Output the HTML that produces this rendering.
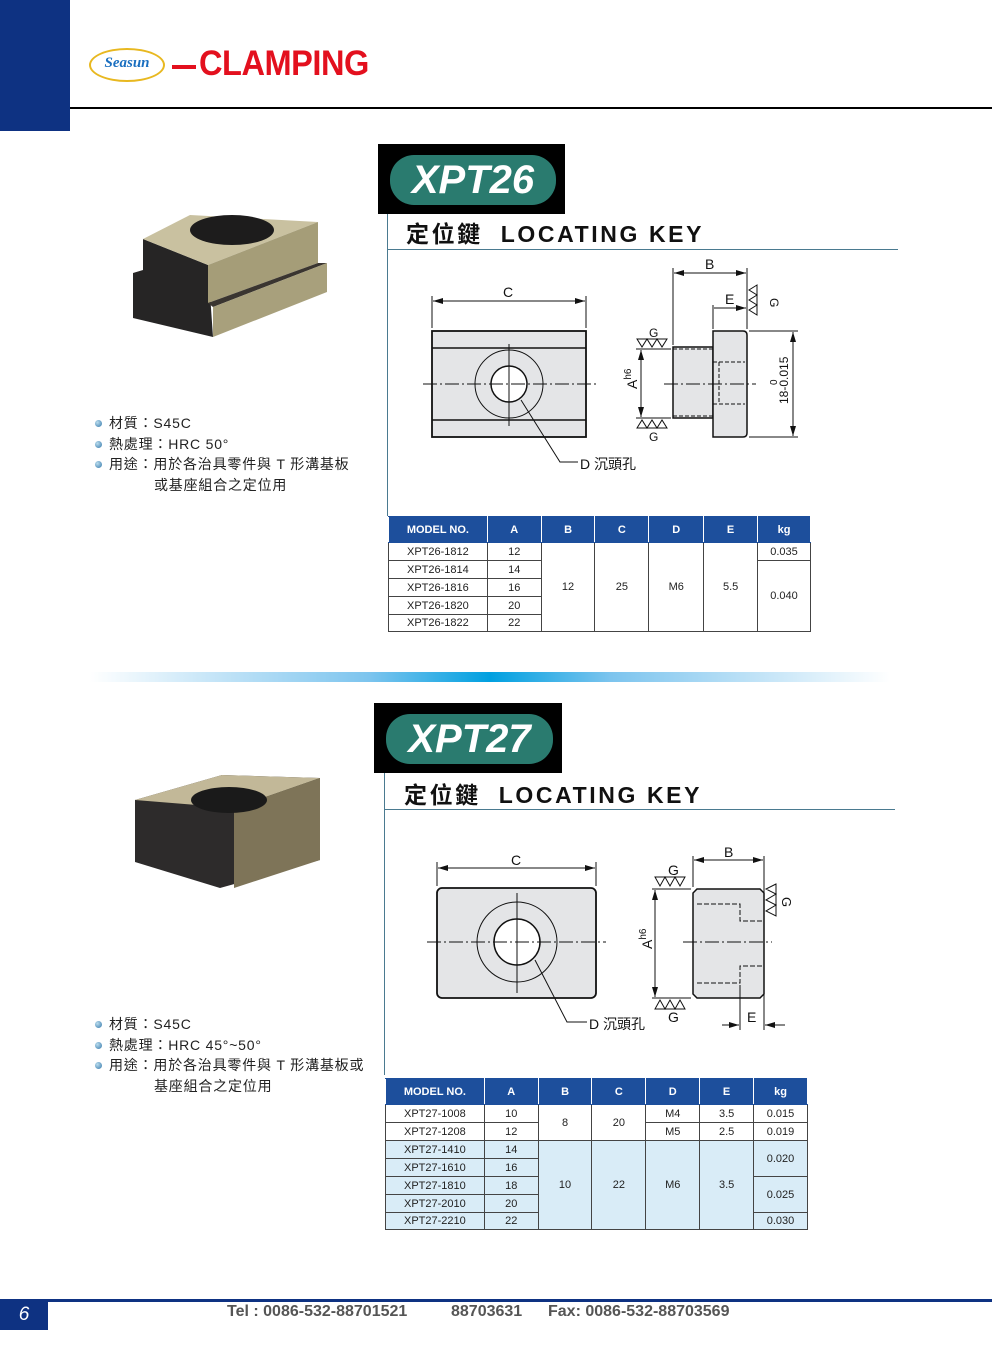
<!DOCTYPE html>
<html><head><meta charset="utf-8">
<style>
*{margin:0;padding:0;box-sizing:border-box}
body{width:992px;height:1346px;position:relative;background:#fff;font-family:"Liberation Sans","Noto Sans CJK TC",sans-serif;overflow:hidden}
.a{position:absolute}
table{position:absolute;border-collapse:collapse;font-size:11px;color:#222;text-align:center}
td,th{border:1px solid #444;padding:0;font-weight:normal}
th{background:#1d4f9c;color:#fff;font-weight:bold;font-size:11px;border-color:#1d4f9c #fff}
.lb td.b{background:#d9ecf7}
.spec{font-size:14px;color:#222;line-height:20.5px;letter-spacing:0.8px}
.spec div{position:relative;padding-left:14px}
.spec div.dot:before{content:"";position:absolute;left:0;top:7px;width:7px;height:7px;border-radius:50%;background:radial-gradient(circle at 35% 35%,#bde,#37a)}
.ttl{font-size:23px;font-weight:bold;color:#111;letter-spacing:2.6px;white-space:nowrap}
.ft{position:absolute;top:1303px;font-size:16px;font-weight:bold;color:#555;white-space:nowrap}
</style></head><body>
<!-- header -->
<div class="a" style="left:0;top:0;width:70px;height:131px;background:#0e3282"></div>
<div class="a" style="left:70px;top:107px;width:922px;height:2px;background:#000"></div>
<div class="a" style="left:89px;top:48px;width:76px;height:34px;border:2px solid #e8b820;border-radius:50%;"></div>
<div class="a" style="left:93px;top:55px;width:68px;text-align:center;font:italic bold 15px 'Liberation Serif',serif;color:#1a6fc0">Seasun</div>
<div class="a" style="left:172px;top:65px;width:24px;height:4px;background:#e3101e"></div>
<div class="a" style="left:199px;top:44px;font:bold 35px 'Liberation Sans',sans-serif;color:#e3101e;letter-spacing:-0.5px;transform:scaleX(0.93);transform-origin:left">CLAMPING</div>

<!-- XPT26 -->
<div class="a" style="left:378px;top:144px;width:187px;height:70px;background:#000"></div>
<div class="a" style="left:390px;top:155px;width:166px;height:50px;background:#2a7b6f;border-radius:24px;color:#fff;font:italic bold 40px 'Liberation Sans',sans-serif;text-align:center;line-height:50px">XPT26</div>
<div class="a ttl" style="left:406px;top:215px">定位鍵&nbsp; LOCATING KEY</div>
<div class="a" style="left:387px;top:214px;width:1px;height:302px;background:#4a7a90"></div>
<div class="a" style="left:387px;top:249px;width:511px;height:1px;background:#4a7a90"></div>

<svg class="a" style="left:0;top:0" width="992" height="1346" xmlns="http://www.w3.org/2000/svg" font-family="Liberation Sans, sans-serif">
<defs><marker id="ar" markerWidth="10" markerHeight="6" refX="10" refY="3" orient="auto-start-reverse"><path d="M0,0 L10,3 L0,6z" fill="#111"/></marker></defs>
<!-- photo 1 -->
<polygon points="133,273 143,270 143,239 208,265 213,337 133,318" fill="#262525"/>
<polygon points="143,239 190,215 318,222 208,265" fill="#c9c1a0"/>
<polygon points="208,265 318,222 318,263 208,303" fill="#a59d78"/>
<polygon points="208,303 318,263 327,263 213,307" fill="#3a3530"/>
<polygon points="213,307 327,263 327,292 213,337" fill="#a8a07c"/>
<ellipse cx="232" cy="230" rx="42" ry="15" fill="#1d1c1c"/>
<!-- photo 2 -->
<polygon points="135,800 222,775 320,778 320,860 220,888 135,862" fill="#2d2b2b"/>
<polygon points="135,800 222,775 320,778 234,808" fill="#c2b898"/>
<polygon points="234,808 320,778 320,860 234,888" fill="#7e7458"/>
<ellipse cx="229" cy="800" rx="38" ry="13" fill="#1a1a1a"/>

<g stroke="#111" stroke-width="1" fill="none">
<!-- XPT26 front -->
<rect x="432" y="331" width="154" height="106" fill="#e4e5e7" stroke-width="1.8"/>
<line x1="432" y1="348" x2="586" y2="348" stroke-width="1.6"/>
<line x1="432" y1="420" x2="586" y2="420" stroke-width="1.6"/>
<circle cx="509" cy="384" r="34"/>
<circle cx="509" cy="384" r="18" fill="#fff" stroke-width="1.5"/>
<line x1="423" y1="384" x2="596" y2="384" stroke-dasharray="14,3,2,3"/>
<line x1="509" y1="344" x2="509" y2="426"/>
<line x1="432" y1="296" x2="432" y2="328"/><line x1="586" y1="296" x2="586" y2="328"/>
<line x1="433" y1="301" x2="585" y2="301" marker-start="url(#ar)" marker-end="url(#ar)"/>
<polyline points="521,400 560,462 578,462"/>
<!-- XPT26 side -->
<rect x="673" y="347" width="40" height="71" fill="#e4e5e7" stroke-width="1.5"/>
<path d="M713,331 H743 Q747,331 747,335 V433 Q747,437 743,437 H713 Z" fill="#e4e5e7" stroke-width="1.5"/>
<path d="M673,349 H713 M673,416 H713 M713,362 H745 M713,404 H745 M719,362 V404" stroke-dasharray="4,2"/>
<line x1="664" y1="384" x2="756" y2="384" stroke-dasharray="14,3,2,3"/>
<line x1="673" y1="268" x2="673" y2="345"/><line x1="747" y1="268" x2="747" y2="329"/><line x1="713" y1="305" x2="713" y2="329"/>
<line x1="674" y1="273" x2="746" y2="273" marker-start="url(#ar)" marker-end="url(#ar)"/>
<line x1="714" y1="308" x2="746" y2="308" marker-end="url(#ar)"/>
<line x1="641" y1="350" x2="641" y2="417" marker-start="url(#ar)" marker-end="url(#ar)"/>
<line x1="636" y1="349" x2="671" y2="349"/><line x1="636" y1="418" x2="671" y2="418"/>
<line x1="749" y1="331" x2="798" y2="331"/><line x1="749" y1="437" x2="798" y2="437"/>
<line x1="793" y1="332" x2="793" y2="436" marker-start="url(#ar)" marker-end="url(#ar)"/>
<path d="M637,339 L642,347 L647,339 L652,347 L657,339 L662,347 L667,339 Z"/>
<path d="M637,428 L642,420 L647,428 L652,420 L657,428 L662,420 L667,428 Z"/>
<path d="M757,285 L749,290 L757,295 L749,300 L757,305 L749,310 L757,315 Z"/>
<!-- XPT27 front -->
<rect x="437" y="888" width="159" height="110" rx="5" fill="#e4e5e7" stroke-width="1.8"/>
<circle cx="517" cy="942" r="40"/>
<circle cx="517" cy="942" r="23" fill="#fff" stroke-width="1.5"/>
<line x1="427" y1="942" x2="606" y2="942" stroke-dasharray="14,3,2,3"/>
<line x1="517" y1="893" x2="517" y2="993"/>
<line x1="437" y1="862" x2="437" y2="886"/><line x1="596" y1="862" x2="596" y2="886"/>
<line x1="438" y1="868" x2="595" y2="868" marker-start="url(#ar)" marker-end="url(#ar)"/>
<polyline points="535,960 567,1022 587,1022"/>
<!-- XPT27 side -->
<path d="M697,889 H760 L764,893 V994 L760,998 H697 L693,994 V893 Z" fill="#e4e5e7" stroke-width="1.5"/>
<path d="M697,904 H740 V921 H762 M697,983 H740 V966 H762" stroke-dasharray="5,2"/>
<line x1="683" y1="942" x2="772" y2="942" stroke-dasharray="14,3,2,3"/>
<line x1="693" y1="856" x2="693" y2="887"/><line x1="764" y1="856" x2="764" y2="1030"/><line x1="740" y1="985" x2="740" y2="1030"/>
<line x1="694" y1="860" x2="763" y2="860" marker-start="url(#ar)" marker-end="url(#ar)"/>
<line x1="722" y1="1025" x2="739" y2="1025" marker-end="url(#ar)"/><line x1="785" y1="1025" x2="765" y2="1025" marker-end="url(#ar)"/>
<line x1="655" y1="890" x2="655" y2="997" marker-start="url(#ar)" marker-end="url(#ar)"/>
<line x1="652" y1="889" x2="691" y2="889"/><line x1="652" y1="998" x2="691" y2="998"/>
<path d="M655,877 L660,886 L665,877 L670,886 L675,877 L680,886 L685,877 Z"/>
<path d="M655,1009 L660,1000 L665,1009 L670,1000 L675,1009 L680,1000 L685,1009 Z"/>
<path d="M776,884 L766,889 L776,894 L766,900 L776,905 L766,911 L776,916 Z"/>
</g>
<g fill="#111" font-size="14">
<text x="503" y="297">C</text><text x="705" y="269">B</text><text x="725" y="304">E</text>
<text x="649" y="337" font-size="12">G</text><text x="649" y="441" font-size="12">G</text>
<text x="770" y="298" font-size="12" transform="rotate(90 770 298)">G</text>
<text x="580" y="469" font-size="14">D 沉頭孔</text>
<text x="637" y="389" transform="rotate(-90 637 389)">A<tspan font-size="10" dy="-6">h6</tspan></text>
<text x="788" y="404" font-size="12" transform="rotate(-90 788 404)">18-0.015</text>
<text x="777" y="385" font-size="10" transform="rotate(-90 777 385)">0</text>
<text x="511" y="865">C</text><text x="724" y="857">B</text><text x="747" y="1022">E</text>
<text x="668" y="875" font-size="14">G</text><text x="668" y="1022" font-size="14">G</text>
<text x="782" y="897" font-size="13" transform="rotate(90 782 897)">G</text>
<text x="589" y="1029">D 沉頭孔</text>
<text x="652" y="949" transform="rotate(-90 652 949)">A<tspan font-size="10" dy="-6">h6</tspan></text>
</g>
<defs><linearGradient id="gb" x1="0" x2="1"><stop offset="0" stop-color="#fff"/><stop offset="0.35" stop-color="#7cc4ee"/><stop offset="0.5" stop-color="#00a0e0"/><stop offset="0.65" stop-color="#7cc4ee"/><stop offset="1" stop-color="#fff"/></linearGradient></defs>
<rect x="90" y="672" width="800" height="10" fill="url(#gb)"/>
</svg>

<div class="a spec" style="left:95px;top:413px">
<div class="dot">材質：S45C</div>
<div class="dot">熱處理：HRC 50°</div>
<div class="dot">用途：用於各治具零件與 T 形溝基板</div>
<div style="padding-left:59px">或基座組合之定位用</div>
</div>

<table style="left:388px;top:516px;width:423px">
<tr style="height:26px"><th style="width:99px">MODEL NO.</th><th style="width:54px">A</th><th style="width:54px">B</th><th style="width:54px">C</th><th style="width:55px">D</th><th style="width:54px">E</th><th style="width:53px">kg</th></tr>
<tr style="height:18px"><td>XPT26-1812</td><td>12</td><td rowspan="5">12</td><td rowspan="5">25</td><td rowspan="5">M6</td><td rowspan="5">5.5</td><td>0.035</td></tr>
<tr style="height:18px"><td>XPT26-1814</td><td>14</td><td rowspan="4">0.040</td></tr>
<tr style="height:18px"><td>XPT26-1816</td><td>16</td></tr>
<tr style="height:18px"><td>XPT26-1820</td><td>20</td></tr>
<tr style="height:17px"><td>XPT26-1822</td><td>22</td></tr>
</table>

<!-- XPT27 -->
<div class="a" style="left:374px;top:703px;width:188px;height:70px;background:#000"></div>
<div class="a" style="left:386px;top:714px;width:167px;height:50px;background:#2a7b6f;border-radius:24px;color:#fff;font:italic bold 40px 'Liberation Sans',sans-serif;text-align:center;line-height:50px">XPT27</div>
<div class="a ttl" style="left:404px;top:776px">定位鍵&nbsp; LOCATING KEY</div>
<div class="a" style="left:384px;top:773px;width:1px;height:302px;background:#4a7a90"></div>
<div class="a" style="left:384px;top:809px;width:511px;height:1px;background:#4a7a90"></div>

<div class="a spec" style="left:95px;top:1014px">
<div class="dot">材質：S45C</div>
<div class="dot">熱處理：HRC 45°~50°</div>
<div class="dot">用途：用於各治具零件與 T 形溝基板或</div>
<div style="padding-left:59px">基座組合之定位用</div>
</div>

<table class="lb" style="left:385px;top:1078px;width:423px">
<tr style="height:26px"><th style="width:99px">MODEL NO.</th><th style="width:54px">A</th><th style="width:54px">B</th><th style="width:54px">C</th><th style="width:54px">D</th><th style="width:54px">E</th><th style="width:54px">kg</th></tr>
<tr style="height:18px"><td>XPT27-1008</td><td>10</td><td rowspan="2">8</td><td rowspan="2">20</td><td>M4</td><td>3.5</td><td>0.015</td></tr>
<tr style="height:18px"><td>XPT27-1208</td><td>12</td><td>M5</td><td>2.5</td><td>0.019</td></tr>
<tr style="height:18px"><td class="b">XPT27-1410</td><td class="b">14</td><td class="b" rowspan="5">10</td><td class="b" rowspan="5">22</td><td class="b" rowspan="5">M6</td><td class="b" rowspan="5">3.5</td><td class="b" rowspan="2">0.020</td></tr>
<tr style="height:18px"><td class="b">XPT27-1610</td><td class="b">16</td></tr>
<tr style="height:18px"><td class="b">XPT27-1810</td><td class="b">18</td><td class="b" rowspan="2">0.025</td></tr>
<tr style="height:18px"><td class="b">XPT27-2010</td><td class="b">20</td></tr>
<tr style="height:17px"><td class="b">XPT27-2210</td><td class="b">22</td><td class="b">0.030</td></tr>
</table>

<!-- footer -->
<div class="a" style="left:0;top:1299px;width:992px;height:3px;background:#0e3282"></div>
<div class="a" style="left:0;top:1300px;width:48px;height:30px;background:#0e3282;color:#fff;font:italic 19px 'Liberation Sans',sans-serif;text-align:center;line-height:30px">6</div>
<div class="ft" style="left:227px">Tel : 0086-532-88701521</div>
<div class="ft" style="left:451px">88703631</div>
<div class="ft" style="left:548px">Fax: 0086-532-88703569</div>
</body></html>
